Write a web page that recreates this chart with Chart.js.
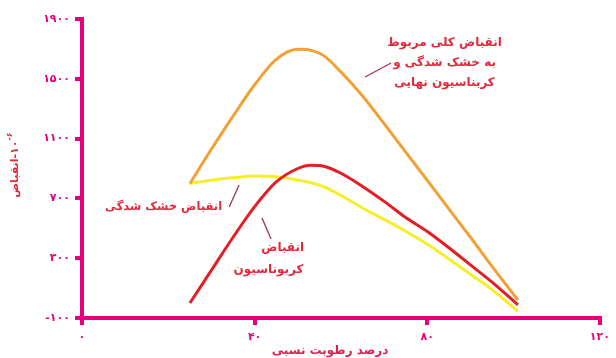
<!DOCTYPE html>
<html>
<head>
<meta charset="utf-8">
<script src="https://cdn.jsdelivr.net/npm/chart.js@4/dist/chart.umd.min.js"></script>
<style>
  html, body { margin: 0; padding: 0; background: #ffffff; }
  #c { display: block; }
</style>
</head>
<body>
<canvas id="c" width="616" height="358"></canvas>
<script>
// ---- data ----
const relativeHumidity = [25, 30, 35, 40, 45, 50, 53, 56, 60, 65, 70, 75, 80, 85, 90, 95, 101];
const totalShrinkage   = [800, 1030, 1250, 1460, 1630, 1697, 1690, 1655, 1545, 1385, 1200, 1010, 820, 630, 440, 245, 20];
const carbonationShrinkage = [0, 220, 440, 645, 810, 900, 922, 915, 868, 780, 680, 572, 478, 370, 255, 140, -12];
const dryingShrinkage  = [800, 822, 838, 850, 845, 823, 805, 778, 720, 636, 560, 480, 393, 295, 192, 90, -55];

const xTickValues = [0, 40, 80, 120];
const xTickLabels = ['۰', '۴۰', '۸۰', '۱۲۰'];
const yTickValues = [-100, 300, 700, 1100, 1500, 1900];
const yTickLabels = ['-۱۰۰', '۳۰۰', '۷۰۰', '۱۱۰۰', '۱۵۰۰', '۱۹۰۰'];

const xTitle = 'درصد رطوبت نسبی';
const yTitleWord = 'انقباض';
const yTitleBase = '-۱۰';
const yTitleExp = '-۶';

const labelTotal = ['انقباض کلی مربوط', 'به خشک شدگی و', 'کربناسیون نهایی'];
const labelDrying = ['انقباض خشک شدگی'];
const labelCarbonation = ['انقباض', 'کربوناسیون'];

// ---- styles ----
const MAGENTA = '#e6007e';
const ORANGE = '#f2a033';
const RED = '#e31e25';
const YELLOW = '#f6ee2c';
const LABEL_RED = '#e12a3c';
const FONT = '"DejaVu Sans", sans-serif';

const toPts = ys => relativeHumidity.map((x, i) => ({ x: x, y: ys[i] }));

// annotation plugin: text blocks and leader lines placed in data space
const annotations = {
  id: 'annotations',
  afterDraw(chart) {
    const { ctx, scales: { x, y } } = chart;
    ctx.save();
    ctx.fillStyle = LABEL_RED;
    ctx.font = 'bold 12px ' + FONT;
    ctx.textAlign = 'center';
    ctx.textBaseline = 'middle';
    ctx.direction = 'rtl';
    const block = (lines, xs, ys) => {
      lines.forEach((t, i) => ctx.fillText(t, x.getPixelForValue(xs[i]), y.getPixelForValue(ys[i])));
    };
    block(labelTotal, [84, 84, 84], [1740, 1605, 1470]);
    ctx.font = 'bold 11.5px ' + FONT;
    block(labelDrying, [18.9], [642]);
    ctx.font = 'bold 12px ' + FONT;
    block(labelCarbonation, [46.5, 43.2], [368, 221]);

    const leader = (x1, y1, x2, y2, color) => {
      ctx.beginPath();
      ctx.strokeStyle = color;
      ctx.lineWidth = 1.3;
      ctx.moveTo(x.getPixelForValue(x1), y.getPixelForValue(y1));
      ctx.lineTo(x.getPixelForValue(x2), y.getPixelForValue(y2));
      ctx.stroke();
    };
    leader(65.6, 1512, 71.6, 1606, '#b0305a');
    leader(34.1, 642, 36.4, 790, '#9a3060');
    leader(41.7, 569, 43.8, 428, '#9a3060');

    // x title
    ctx.direction = 'rtl';
    ctx.font = 'bold 12px ' + FONT;
    ctx.fillStyle = '#dc2350';
    ctx.fillText(xTitle, 330, 351);

    // y title (rotated)
    ctx.translate(15, 165);
    ctx.rotate(-Math.PI / 2);
    ctx.fillStyle = LABEL_RED;
    ctx.font = 'bold 11px ' + FONT;
    ctx.textAlign = 'left';
    ctx.direction = 'ltr';
    const w1 = ctx.measureText(yTitleWord).width;
    const w2 = ctx.measureText(yTitleBase).width;
    ctx.font = 'bold 8px ' + FONT;
    const w3 = ctx.measureText(yTitleExp).width;
    const total = w1 + w2 + w3;
    let cx = -total / 2;
    ctx.font = 'bold 11px ' + FONT;
    ctx.direction = 'rtl';
    ctx.textAlign = 'right';
    ctx.fillText(yTitleWord, cx + w1, 0);
    ctx.direction = 'ltr';
    ctx.textAlign = 'left';
    ctx.fillText(yTitleBase, cx + w1, 0);
    ctx.font = 'bold 8px ' + FONT;
    ctx.fillText(yTitleExp, cx + w1 + w2, -5);
    ctx.restore();
  }
};

const lineStyle = { borderWidth: 3, pointRadius: 0, cubicInterpolationMode: 'monotone', fill: false };

new Chart(document.getElementById('c'), {
  type: 'line',
  data: {
    datasets: [
      Object.assign({ label: labelTotal.join(' '), data: toPts(totalShrinkage), borderColor: ORANGE }, lineStyle),
      Object.assign({ label: labelCarbonation.join(' '), data: toPts(carbonationShrinkage), borderColor: RED }, lineStyle),
      Object.assign({ label: labelDrying.join(' '), data: toPts(dryingShrinkage), borderColor: YELLOW }, lineStyle)
    ]
  },
  options: {
    responsive: false,
    animation: false,
    devicePixelRatio: 1,
    layout: { padding: { top: 19, right: 13, left: 0, bottom: 0 } },
    plugins: { legend: { display: false }, tooltip: { enabled: false } },
    scales: {
      x: {
        type: 'linear',
        min: 0, max: 120,
        afterBuildTicks: s => { s.ticks = xTickValues.map(v => ({ value: v })); },
        afterFit: s => { s.height = 40; },
        border: { display: true, color: MAGENTA, width: 4 },
        grid: { display: true, drawOnChartArea: false, drawTicks: true, tickLength: 7, color: MAGENTA, lineWidth: 4 },
        ticks: {
          padding: 6,
          color: MAGENTA,
          font: { family: FONT, size: 11, weight: 'bold' },
          maxRotation: 0,
          callback: (v, i) => xTickLabels[i]
        }
      },
      y: {
        type: 'linear',
        min: -100, max: 1900,
        afterBuildTicks: s => { s.ticks = yTickValues.map(v => ({ value: v })); },
        afterFit: s => { s.width = 82; },
        border: { display: true, color: MAGENTA, width: 4 },
        grid: { display: true, drawOnChartArea: false, drawTicks: true, tickLength: 7, color: MAGENTA, lineWidth: 4 },
        ticks: {
          padding: 5,
          color: MAGENTA,
          font: { family: FONT, size: 11, weight: 'bold' },
          callback: (v, i) => yTickLabels[i]
        }
      }
    }
  },
  plugins: [annotations]
});
</script>
</body>
</html>
